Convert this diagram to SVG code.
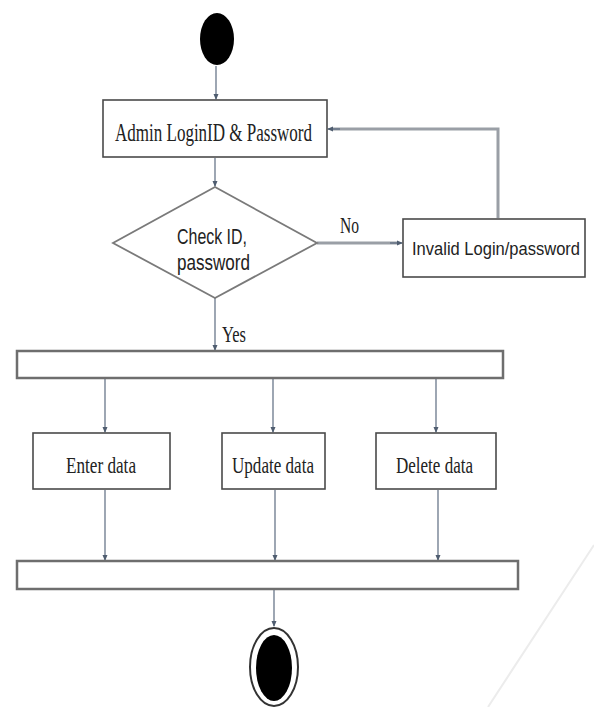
<svg xmlns="http://www.w3.org/2000/svg" width="594" height="707" viewBox="0 0 594 707">
<style>
.box{fill:#fff;stroke:#4a4a4a;stroke-width:1.6}
.bar{fill:#fff;stroke:#6e6e6e;stroke-width:2.5}
.ser{font-family:"Liberation Serif","Times New Roman",serif;fill:#222}
.san{font-family:"Liberation Sans",Arial,sans-serif;fill:#222}
.con{stroke:#5d6c80;stroke-width:1.2;fill:none;marker-end:url(#ah)}
.thick{stroke:#9a9fa6;stroke-width:3;fill:none}
</style>
<defs>
<marker id="ah" markerWidth="6" markerHeight="6" refX="5" refY="3" orient="auto" markerUnits="userSpaceOnUse">
<path d="M0,0.5 L6,3 L0,5.5 Z" fill="#4f5d70"/>
</marker>
</defs>
<rect width="594" height="707" fill="#fff"/>
<line x1="594" y1="545" x2="488" y2="707" stroke="#ececec" stroke-width="2"/>
<g id="connectors">
<line class="con" x1="216" y1="66" x2="216" y2="99"/>
<line class="con" x1="215" y1="158" x2="215" y2="186"/>
<line class="thick" x1="317" y1="243" x2="398" y2="243"/>
<line class="con" x1="390" y1="243" x2="402" y2="243"/>
<polyline class="thick" points="498,218 498,129 333,129"/>
<line class="con" x1="340" y1="129" x2="328" y2="129"/>
<line class="con" x1="215" y1="298" x2="215" y2="350"/>
<line class="con" x1="105" y1="379" x2="105" y2="432"/>
<line class="con" x1="273" y1="379" x2="273" y2="432"/>
<line class="con" x1="436" y1="379" x2="436" y2="432"/>
<line class="con" x1="105" y1="490" x2="105" y2="560"/>
<line class="con" x1="275" y1="490" x2="275" y2="560"/>
<line class="con" x1="438" y1="490" x2="438" y2="560"/>
<line class="con" x1="274" y1="590" x2="274" y2="626"/>
<text class="ser" x="340" y="233" font-size="23" textLength="19" lengthAdjust="spacingAndGlyphs">No</text>
<text class="ser" x="222" y="342" font-size="23" textLength="24" lengthAdjust="spacingAndGlyphs">Yes</text>
</g>
<g id="start">
<ellipse cx="217" cy="39" rx="17" ry="26" fill="#000"/>
</g>
<g id="admin">
<rect class="box" x="103" y="100" width="224" height="57"/>
<text class="ser" x="115" y="141" font-size="25" textLength="197" lengthAdjust="spacingAndGlyphs">Admin LoginID &amp; Password</text>
</g>
<g id="check">
<polygon points="215,187 317,243 215,298 113,243" fill="#fff" stroke="#7a7a7a" stroke-width="1.8"/>
<text class="san" x="177" y="244" font-size="22" textLength="70" lengthAdjust="spacingAndGlyphs">Check ID,</text>
<text class="san" x="177" y="270" font-size="22" textLength="73" lengthAdjust="spacingAndGlyphs">password</text>
</g>
<g id="invalid">
<rect class="box" x="403" y="219" width="182" height="58"/>
<text class="san" x="412" y="255" font-size="17.5" textLength="168" lengthAdjust="spacingAndGlyphs">Invalid Login/password</text>
</g>
<g id="fork">
<rect class="bar" x="17" y="351" width="486" height="27"/>
</g>
<g id="enter">
<rect class="box" x="33" y="433" width="137" height="56"/>
<text class="ser" x="66" y="473" font-size="24" textLength="70" lengthAdjust="spacingAndGlyphs">Enter data</text>
</g>
<g id="update">
<rect class="box" x="222" y="433" width="103" height="56"/>
<text class="ser" x="232" y="473" font-size="24" textLength="82" lengthAdjust="spacingAndGlyphs">Update data</text>
</g>
<g id="delete">
<rect class="box" x="376" y="433" width="120" height="56"/>
<text class="ser" x="396" y="473" font-size="24" textLength="77" lengthAdjust="spacingAndGlyphs">Delete data</text>
</g>
<g id="join">
<rect class="bar" x="17" y="561" width="501" height="28"/>
</g>
<g id="end">
<ellipse cx="274" cy="667" rx="24" ry="39" fill="#fff" stroke="#333" stroke-width="2"/>
<ellipse cx="274" cy="668" rx="18" ry="33" fill="#000"/>
</g>
</svg>
